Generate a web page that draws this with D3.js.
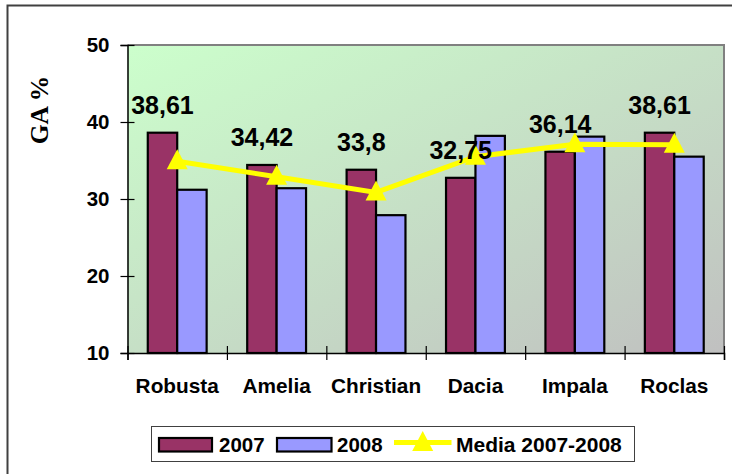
<!DOCTYPE html>
<html>
<head>
<meta charset="utf-8">
<script src="https://cdn.jsdelivr.net/npm/d3@7"></script>
<style>
  body { margin: 0; background: #fff; }
  text { font-family: Arial, "Liberation Sans", sans-serif; font-weight: bold; }
</style>
</head>
<body>
<script>
// data
var categories = ["Robusta", "Amelia", "Christian", "Dacia", "Impala", "Roclas"];
var values2007 = [38.61, 34.42, 33.8, 32.75, 36.14, 38.61];
var values2008 = [31.2, 31.4, 27.9, 38.2, 38.1, 35.5];
var media = [34.9, 32.9, 30.85, 35.5, 37.1, 37.05];
var yTicks = [10, 20, 30, 40, 50];

var w = 732, h = 474;
var plotLeft = 127.5, plotRight = 724, plotTop = 45, plotBottom = 353;

var svg = d3.select("body").append("svg")
    .attr("width", w)
    .attr("height", h);

// outer frame (runs off the right and bottom edges)
svg.append("rect")
    .attr("x", 7.5).attr("y", 5.5)
    .attr("width", 800).attr("height", 600)
    .attr("fill", "none")
    .attr("stroke", "#404040")
    .attr("stroke-width", 2);

// plot background gradient
var grad = svg.append("defs").append("linearGradient")
    .attr("id", "bg")
    .attr("x1", 0).attr("y1", 0).attr("x2", 1).attr("y2", 1);
grad.append("stop").attr("offset", "0%").attr("stop-color", "#ccffcc");
grad.append("stop").attr("offset", "100%").attr("stop-color", "#c0c0c0");

svg.append("rect")
    .attr("x", plotLeft).attr("y", plotTop)
    .attr("width", plotRight - plotLeft).attr("height", plotBottom - plotTop)
    .attr("fill", "url(#bg)");

// top and right border of plot area
svg.append("path")
    .attr("d", "M" + plotLeft + "," + plotTop + "H" + plotRight + "V" + plotBottom)
    .attr("fill", "none")
    .attr("stroke", "#808080")
    .attr("stroke-width", 2);

// scales
var xScale = d3.scaleBand()
    .domain(categories)
    .range([plotLeft, plotRight]);

var yScale = d3.scaleLinear()
    .domain([10, 50])
    .range([plotBottom, plotTop]);

var bw = xScale.bandwidth();
var barW = bw * 0.296;

// bars
var groups = svg.selectAll("g.cat")
    .data(categories)
    .enter()
    .append("g")
    .attr("class", "cat");

groups.append("rect")
    .attr("x", function(d) { return xScale(d) + bw / 2 - barW; })
    .attr("y", function(d, i) { return yScale(values2007[i]); })
    .attr("width", barW)
    .attr("height", function(d, i) { return yScale(10) - yScale(values2007[i]); })
    .attr("fill", "#993366")
    .attr("stroke", "#000")
    .attr("stroke-width", 2.2);

groups.append("rect")
    .attr("x", function(d) { return xScale(d) + bw / 2; })
    .attr("y", function(d, i) { return yScale(values2008[i]); })
    .attr("width", barW)
    .attr("height", function(d, i) { return yScale(10) - yScale(values2008[i]); })
    .attr("fill", "#9999ff")
    .attr("stroke", "#000")
    .attr("stroke-width", 2.2);

// y axis
var yAxis = d3.axisLeft(yScale)
    .tickValues(yTicks)
    .tickSize(7)
    .tickPadding(11);

var gY = svg.append("g")
    .attr("transform", "translate(" + plotLeft + ",0)")
    .call(yAxis);
gY.select(".domain").attr("stroke", "#000").attr("stroke-width", 1.5);
gY.selectAll(".tick line").attr("x1", 7).attr("stroke-width", 1.2);
gY.selectAll(".tick text").attr("font-size", 20.5).attr("fill", "#000");

// x axis: ticks on category edges, labels on centers
var xEdge = d3.scaleLinear().domain([0, categories.length]).range([plotLeft, plotRight]);
var gXe = svg.append("g")
    .attr("transform", "translate(0," + plotBottom + ")")
    .call(d3.axisBottom(xEdge).tickValues(d3.range(categories.length + 1)).tickFormat("").tickSize(7));
gXe.select(".domain").attr("stroke", "#000").attr("stroke-width", 1.5);
gXe.selectAll(".tick line").attr("y1", -7).attr("stroke-width", 1.2);

var gX = svg.append("g")
    .attr("transform", "translate(0," + plotBottom + ")")
    .call(d3.axisBottom(xScale).tickSize(0).tickPadding(25));
gX.select(".domain").remove();
gX.selectAll(".tick text").attr("font-size", 20.8).attr("fill", "#000");

// y title
svg.append("text")
    .attr("transform", "translate(47.5,110) rotate(-90)")
    .attr("text-anchor", "middle")
    .style("font-family", "'Times New Roman', 'Liberation Serif', serif")
    .attr("font-size", 25.5)
    .text("GA %");

// media line
var line = d3.line()
    .x(function(d, i) { return xScale(categories[i]) + bw / 2; })
    .y(function(d) { return yScale(d); });

svg.append("path")
    .datum(media)
    .attr("d", line)
    .attr("fill", "none")
    .attr("stroke", "#ffff00")
    .attr("stroke-width", 5);

var tri = "M0,-12L10.5,8L-10.5,8Z";
svg.selectAll("path.marker")
    .data(media)
    .enter()
    .append("path")
    .attr("class", "marker")
    .attr("d", tri)
    .attr("transform", function(d, i) {
      return "translate(" + (xScale(categories[i]) + bw / 2) + "," + yScale(d) + ")";
    })
    .attr("fill", "#ffff00");

// data labels above 2007 bars
svg.selectAll("text.lbl")
    .data(values2007)
    .enter()
    .append("text")
    .attr("class", "lbl")
    .attr("x", function(d, i) { return xScale(categories[i]) + bw / 2 - barW / 2; })
    .attr("y", function(d) { return yScale(d) - 19; })
    .attr("text-anchor", "middle")
    .attr("font-size", 25)
    .text(function(d) { return String(d).replace(".", ","); });

// legend
var legend = svg.append("g");
legend.append("rect")
    .attr("x", 151.5).attr("y", 426.5)
    .attr("width", 483).attr("height", 35)
    .attr("fill", "#fff")
    .attr("stroke", "#404040")
    .attr("stroke-width", 1);

legend.append("rect")
    .attr("x", 159).attr("y", 438).attr("width", 53).attr("height", 13.5)
    .attr("fill", "#993366").attr("stroke", "#000").attr("stroke-width", 2.2);
legend.append("text").attr("x", 219).attr("y", 451.5).attr("font-size", 20.5).text("2007");

legend.append("rect")
    .attr("x", 277).attr("y", 438).attr("width", 54.5).attr("height", 13.5)
    .attr("fill", "#9999ff").attr("stroke", "#000").attr("stroke-width", 2.2);
legend.append("text").attr("x", 337).attr("y", 451.5).attr("font-size", 20.5).text("2008");

legend.append("line")
    .attr("x1", 394).attr("x2", 451.5).attr("y1", 442.5).attr("y2", 442.5)
    .attr("stroke", "#ffff00").attr("stroke-width", 5);
legend.append("path")
    .attr("d", tri)
    .attr("transform", "translate(422.7,443)")
    .attr("fill", "#ffff00");
legend.append("text").attr("x", 456).attr("y", 451.5).attr("font-size", 21).text("Media 2007-2008");
</script>
</body>
</html>
